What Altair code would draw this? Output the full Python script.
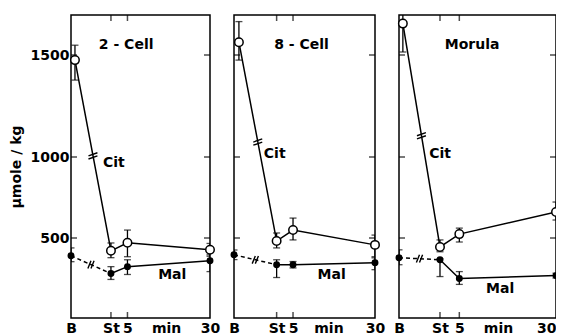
import altair as alt
import numpy as np
import pandas as pd

# ---------------- data ----------------
PANELS = ["2 - Cell", "8 - Cell", "Morula"]
TIME_LABELS = ["B", "St", "5", "30"]
B_POS = [-12.1, -13.0, -10.6]      # position of "B" on each panel's minute axis
MIN_POS = [16.7, 15.8, 15.0]       # position of the "min" label
TIMES = [0, 5, 30]                 # St, 5 min, 30 min
CIT_B_SHIFT = [1.2, 1.5, 1.0]      # open circle at B drawn a little right of the axis

CIT_MEAN = [[1475, 420, 470, 426], [1564, 481, 549, 457], [1657, 444, 524, 660]]
CIT_LO = [[1377, 377, 383, 386], [1475, 438, 488, 383], [1515, 414, 475, 611]]
CIT_HI = [[1549, 469, 549, 466], [1667, 531, 623, 518], [1800, 488, 561, 722]]

MAL_MEAN = [[389, 278, 321, 358], [395, 333, 333, 346], [377, 364, 247, 265]]
MAL_LO = [[352, 241, 272, 290], [365, 253, 313, 302], [333, 259, 210, 250]]
MAL_HI = [[438, 321, 364, 395], [425, 364, 353, 376], [426, 370, 290, 280]]

Y_TICKS = [500, 1000, 1500]
X_TICKS = [0, 5]

TITLE_X = [4.6, 7.6, 8.3]
TITLE_Y = [1549, 1549, 1549]
CIT_LBL_X = [-2.4, -3.9, -2.8]
CIT_LBL_Y = [963, 1015, 1015]
MAL_LBL_X = [14.3, 12.5, 11.9]
MAL_LBL_Y = [271, 271, 179]

# ---------------- layout / style ----------------
WIDTHS = [139, 141, 157]
H = 303
Y_DOMAIN = [0, 500, 1000, 1500, 1700]
Y_RANGE = [303, 223, 142, 40, 0]   # the printed axis is not evenly spaced
FONT = "DejaVu Sans"
LW = 1.5
TL = 6

CIT_BREAK = "M-1,0.1L1,-0.6M-1,0.8L1,0.1"
MAL_BREAK = "M-0.8,1L0,-1M0,1L0.8,-1"


def px_mid(v1, v2):
    """value whose pixel position is half-way between v1 and v2"""
    p1 = np.interp(v1, Y_DOMAIN, Y_RANGE)
    p2 = np.interp(v2, Y_DOMAIN, Y_RANGE)
    pm = (p1 + p2) / 2
    return float(np.interp(pm, Y_RANGE[::-1], Y_DOMAIN[::-1]))


def panel(i):
    w = WIDTHS[i]
    xs = [B_POS[i]] + TIMES
    xscale = alt.Scale(domain=[B_POS[i], 30], nice=False, zero=False)
    yscale = alt.Scale(domain=Y_DOMAIN, range=Y_RANGE, nice=False, zero=False)

    cit = pd.DataFrame({
        "t": TIME_LABELS,
        "x": [xs[0] + CIT_B_SHIFT[i]] + TIMES,
        "y": CIT_MEAN[i], "lo": CIT_LO[i], "hi": CIT_HI[i],
    })
    mal = pd.DataFrame({
        "t": TIME_LABELS,
        "x": xs,
        "y": MAL_MEAN[i], "lo": MAL_LO[i], "hi": MAL_HI[i],
    })

    if i == 0:
        yaxis = alt.Axis(values=Y_TICKS, format="d", ticks=False, domain=False, grid=False,
                         title="µmole / kg", titleFont=FONT, titleFontSize=14,
                         titleFontWeight="bold", titlePadding=7, titleColor="black",
                         labelFont=FONT, labelFontSize=14, labelPadding=2,
                         labelColor="black", labelFontWeight="bold")
    else:
        yaxis = None

    lbl_expr = ("datum.value < -5 ? 'B' : datum.value == 0 ? 'St' : "
                "datum.value == 5 ? '5' : datum.value == 30 ? '30' : 'min'")
    if i == 2:
        lbl_align = {"condition": {"test": "datum.value >= 30", "value": "right"},
                     "value": "center"}
    else:
        lbl_align = "center"
    xaxis = alt.Axis(values=[B_POS[i], 0, 5, MIN_POS[i], 30], labelExpr=lbl_expr,
                     ticks=False, domain=False, grid=False, title=None,
                     labelFlush=False, labelOverlap=False, labelFont=FONT,
                     labelFontSize=14, labelPadding=3, labelColor="black",
                     labelFontWeight="bold", labelAlign=lbl_align)

    def X(f):
        return alt.X(f, scale=xscale, axis=xaxis, title=None)

    def Y(f):
        return alt.Y(f, scale=yscale, axis=yaxis, title="µmole / kg")

    ex, ey = X("x:Q"), Y("y:Q")

    cit_line = alt.Chart(cit).mark_line(color="black", strokeWidth=LW).encode(x=ex, y=ey)
    mal_dash = alt.Chart(mal.iloc[:2]).mark_line(
        color="black", strokeWidth=LW, strokeDash=[4, 3]).encode(x=ex, y=ey)
    mal_solid = alt.Chart(mal.iloc[1:]).mark_line(color="black", strokeWidth=LW).encode(
        x=ex, y=ey)

    both = pd.concat([cit, mal])
    err = alt.Chart(both).mark_rule(color="black", strokeWidth=1.3, clip=True).encode(
        x=ex, y=Y("lo:Q"), y2="hi:Q")
    cap_lo = alt.Chart(both).mark_tick(color="black", thickness=1.3, size=7,
                                       orient="horizontal", clip=True).encode(
        x=ex, y=Y("lo:Q"))
    cap_hi = alt.Chart(both).mark_tick(color="black", thickness=1.3, size=7,
                                       orient="horizontal", clip=True).encode(
        x=ex, y=Y("hi:Q"))

    cit_pts = alt.Chart(cit).mark_point(shape="circle", filled=True, fill="white",
                                        stroke="black", strokeWidth=LW, size=72,
                                        opacity=1).encode(x=ex, y=ey)
    mal_pts = alt.Chart(mal).mark_point(shape="circle", filled=True, color="black",
                                        size=48, opacity=1).encode(x=ex, y=ey)

    brk = pd.DataFrame({
        "x": [(cit.x[0] + cit.x[1]) / 2, (mal.x[0] + mal.x[1]) / 2],
        "y": [px_mid(cit.y[0], cit.y[1]), px_mid(mal.y[0], mal.y[1])],
    })
    brk_cit = alt.Chart(brk.iloc[:1]).mark_point(shape=CIT_BREAK, filled=False,
                                                 color="black", strokeWidth=1.4,
                                                 size=80, opacity=1).encode(x=ex, y=ey)
    brk_mal = alt.Chart(brk.iloc[1:]).mark_point(shape=MAL_BREAK, filled=False,
                                                 color="black", strokeWidth=1.4,
                                                 size=60, opacity=1).encode(x=ex, y=ey)

    ytk = pd.DataFrame({"v": Y_TICKS})
    xtk = pd.DataFrame({"v": X_TICKS})
    yv, xv = Y("v:Q"), X("v:Q")
    ticks = [
        alt.Chart(ytk).mark_tick(color="black", thickness=LW, size=TL,
                                 orient="horizontal").encode(y=yv, x=alt.value(TL / 2)),
        alt.Chart(ytk).mark_tick(color="black", thickness=LW, size=TL,
                                 orient="horizontal").encode(y=yv, x=alt.value(w - TL / 2)),
        alt.Chart(xtk).mark_tick(color="black", thickness=LW, size=TL,
                                 orient="vertical").encode(x=xv, y=alt.value(H - TL / 2)),
        alt.Chart(xtk).mark_tick(color="black", thickness=LW, size=TL,
                                 orient="vertical").encode(x=xv, y=alt.value(TL / 2)),
    ]

    texts = pd.DataFrame({
        "x": [TITLE_X[i], CIT_LBL_X[i], MAL_LBL_X[i]],
        "y": [TITLE_Y[i], CIT_LBL_Y[i], MAL_LBL_Y[i]],
        "label": [PANELS[i], "Cit", "Mal"],
    })
    title_t = alt.Chart(texts.iloc[:1]).mark_text(
        font=FONT, fontSize=14, fontWeight="bold", color="black", align="center",
        baseline="middle").encode(x=ex, y=ey, text="label:N")
    lbl_t = alt.Chart(texts.iloc[1:]).mark_text(
        font=FONT, fontSize=14, fontWeight="bold", color="black", align="left",
        baseline="middle").encode(x=ex, y=ey, text="label:N")

    layers = [cit_line, mal_dash, mal_solid, err, cap_lo, cap_hi] + ticks + \
             [brk_cit, brk_mal, cit_pts, mal_pts, title_t, lbl_t]
    return alt.layer(*layers).properties(width=w, height=H)


chart = alt.hconcat(*[panel(i) for i in range(3)], spacing=24, bounds="flush").properties(
    padding={"left": 0, "top": 6, "right": -8, "bottom": 0}
).configure(background="white").configure_view(stroke="black", strokeWidth=LW)

chart.save("out.html", embed_options={"renderer": "svg", "actions": False})
